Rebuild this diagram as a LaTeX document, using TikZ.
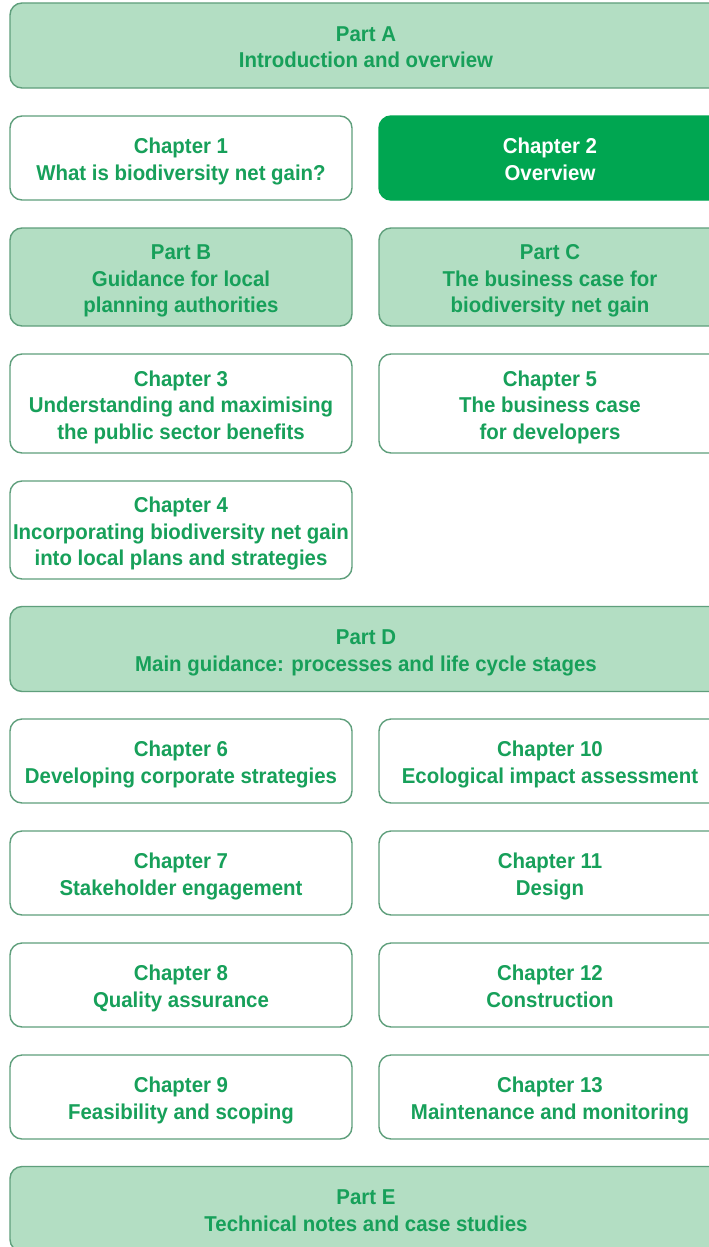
\documentclass[tikz,border=0pt]{standalone}
\usepackage{fontspec}
\setmainfont{Liberation Sans}[FakeStretch=0.95]
\usepackage{tikz}
\usetikzlibrary{calc}

\definecolor{partfill}{HTML}{B3DEC3}
\definecolor{boxline}{HTML}{5F9F7C}
\definecolor{textgreen}{HTML}{17A05A}
\definecolor{darkgreen}{HTML}{00A651}

% extra room above the first line of a box
\newcommand{\ts}{\rule{0pt}{26pt}}

\tikzset{
  chapbox/.style={draw=boxline, line width=1.4pt, rounded corners=12pt, fill=white,
    text=textgreen, font=\fontsize{21.5}{26.5}\selectfont\bfseries, align=center,
    inner sep=0pt, minimum width=342pt},
  partbox/.style={chapbox, fill=partfill},
  widebox/.style={partbox, minimum width=712pt, minimum height=85pt},
  ovbox/.style={chapbox, fill=darkgreen, draw=darkgreen, text=white},
}

\begin{document}
\begin{tikzpicture}[x=1pt,y=-1pt]
\pgfmathsetmacro{\L}{181} % left column centre
\pgfmathsetmacro{\R}{550} % right column centre
\pgfmathsetmacro{\M}{366} % full width centre

\clip (0,0) rectangle (709,1247);
\fill[white] (0,0) rectangle (709,1247);

%%% PARTS (full width)
\node[widebox] (pA) at (\M,45.5) {\ts Part A\\Introduction and overview\strut};
\node[widebox] (pD) at (\M,649) {\ts Part D\\Main guidance: processes and life cycle stages\strut};
\node[widebox] (pE) at (\M,1209) {\ts Part E\\Technical notes and case studies\strut};

%%% FIRST BLOCK
\node[chapbox, minimum height=84pt] (c1) at (\L,158) {\ts Chapter 1\\What is biodiversity net gain?\strut};
\node[ovbox, minimum height=84pt] (c2) at (\R,158) {\ts Chapter 2\\Overview\strut};

\node[partbox, minimum height=98pt] (pB) at (\L,277) {\ts Part B\\Guidance for local\\planning authorities\strut};
\node[partbox, minimum height=98pt] (pC) at (\R,277) {\ts Part C\\The business case for\\biodiversity net gain\strut};

\node[chapbox, minimum height=99pt] (c3) at (\L,403.5) {\ts Chapter 3\\Understanding and maximising\\the public sector benefits\strut};
\node[chapbox, minimum height=99pt] (c5) at (\R,403.5) {\ts Chapter 5\\The business case\\for developers\strut};

\node[chapbox, minimum height=98pt] (c4) at (\L,530) {\ts Chapter 4\\Incorporating biodiversity net gain\\into local plans and strategies\strut};

%%% PART D CHAPTERS, two columns
\foreach \n/\y/\txt in {c6/761/{Chapter 6\\Developing corporate strategies},
                        c7/873/{Chapter 7\\Stakeholder engagement},
                        c8/985/{Chapter 8\\Quality assurance},
                        c9/1097/{Chapter 9\\Feasibility and scoping}}
{
\node[chapbox, minimum height=84pt] (\n) at (\L,\y) {\ts\txt\strut};
}

\foreach \n/\y/\txt in {c10/761/{Chapter 10\\Ecological impact assessment},
                        c11/873/{Chapter 11\\Design},
                        c12/985/{Chapter 12\\Construction},
                        c13/1097/{Chapter 13\\Maintenance and monitoring}}
{
\node[chapbox, minimum height=84pt] (\n) at (\R,\y) {\ts\txt\strut};
}
\end{tikzpicture}
\end{document}
